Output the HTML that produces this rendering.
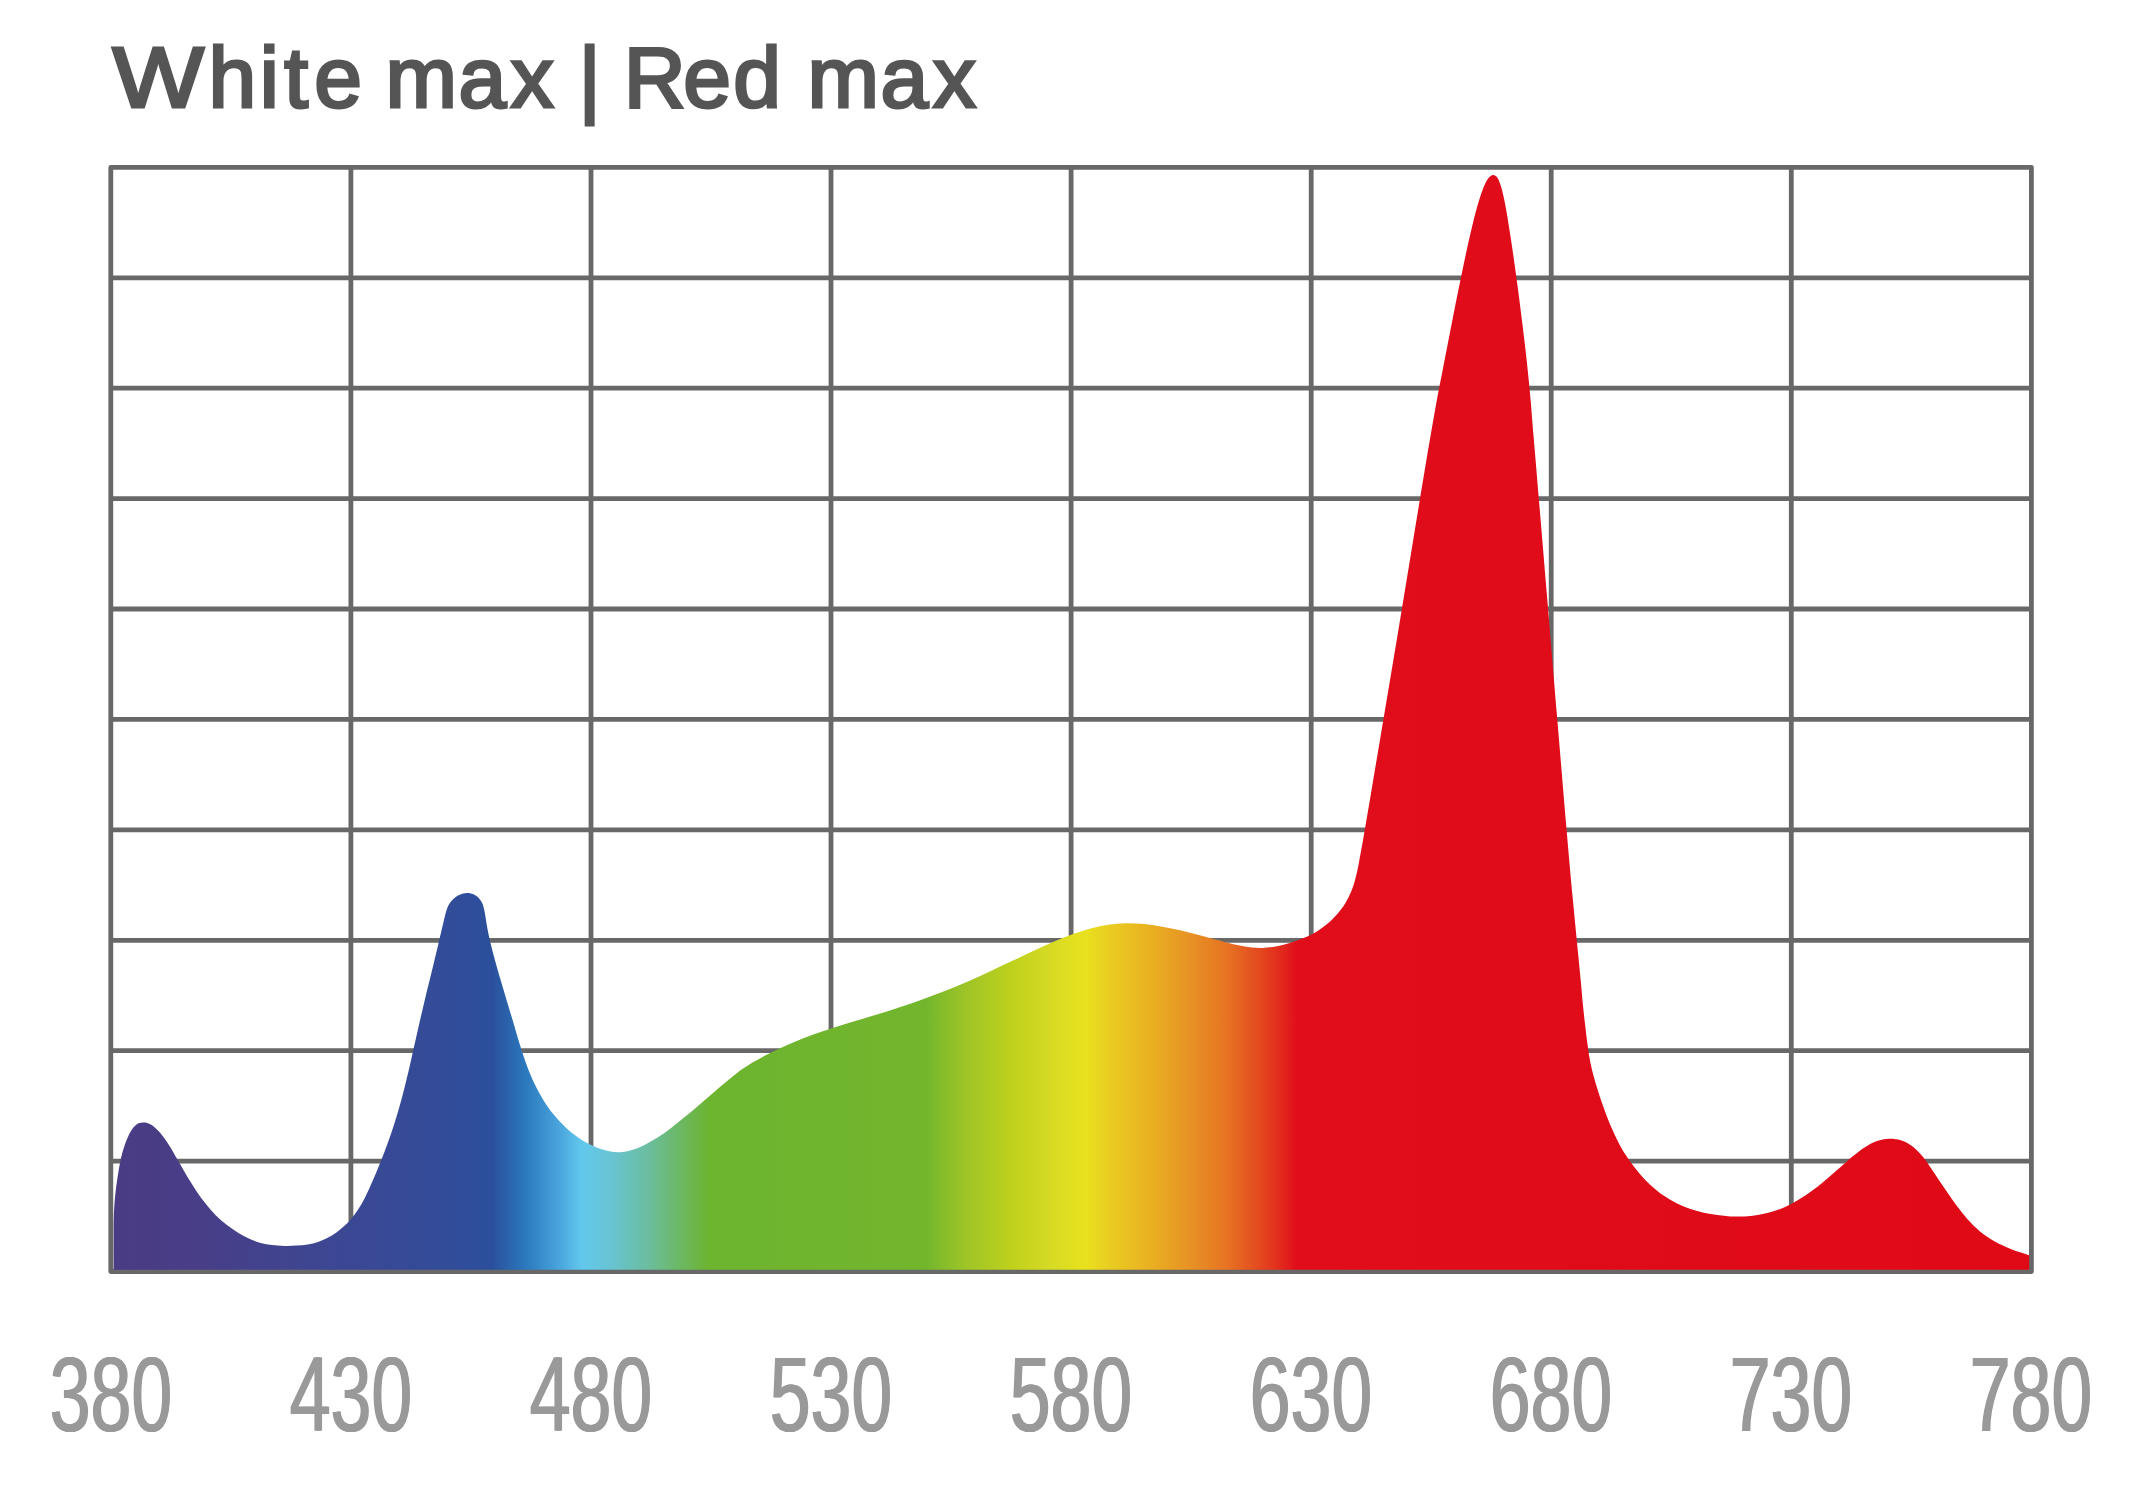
<!DOCTYPE html>
<html lang="en"><head><meta charset="utf-8"><title>White max | Red max</title>
<style>
html,body{margin:0;padding:0;background:#fff;}
body{width:2130px;height:1495px;overflow:hidden;position:relative;font-family:"Liberation Sans",sans-serif;}
svg{position:absolute;left:0;top:0;display:block;}
.title{font-family:"Liberation Sans",sans-serif;font-weight:normal;font-size:85.8px;fill:#555;stroke:#555;stroke-width:3.0px;stroke-linejoin:miter;}
.lab{position:absolute;top:1340.5px;width:300px;height:106.6px;line-height:106.6px;text-align:center;font-family:"Liberation Sans",sans-serif;font-size:106.6px;color:#999;transform:scaleX(0.688);transform-origin:50% 50%;text-shadow:1.05px 0 0 #999,-1.05px 0 0 #999;white-space:nowrap;}
</style></head><body>
<svg width="2130" height="1495" viewBox="0 0 2130 1495">
<defs><linearGradient id="sp" gradientUnits="userSpaceOnUse" x1="113.0" y1="0" x2="2030.0" y2="0"><stop offset="0.0000" stop-color="#4a3b84"/><stop offset="0.0454" stop-color="#483e87"/><stop offset="0.1132" stop-color="#3d4793"/><stop offset="0.1706" stop-color="#334c99"/><stop offset="0.1977" stop-color="#2b4f9c"/><stop offset="0.2149" stop-color="#2a78bd"/><stop offset="0.2332" stop-color="#4aa6dd"/><stop offset="0.2447" stop-color="#62c8ec"/><stop offset="0.2593" stop-color="#68c4d4"/><stop offset="0.2801" stop-color="#6bbd9b"/><stop offset="0.3031" stop-color="#6cb64a"/><stop offset="0.3114" stop-color="#6db42f"/><stop offset="0.4236" stop-color="#72b62c"/><stop offset="0.4444" stop-color="#9dc427"/><stop offset="0.4690" stop-color="#bfd11c"/><stop offset="0.4888" stop-color="#d6da24"/><stop offset="0.5076" stop-color="#e9e11e"/><stop offset="0.5201" stop-color="#e9cc22"/><stop offset="0.5409" stop-color="#e9b121"/><stop offset="0.5618" stop-color="#e79224"/><stop offset="0.5806" stop-color="#e77423"/><stop offset="0.5994" stop-color="#e3461f"/><stop offset="0.6114" stop-color="#e2231c"/><stop offset="0.6176" stop-color="#e10d1a"/><stop offset="1.0000" stop-color="#e00a17"/></linearGradient></defs>
<text class="title" y="107.4"><tspan x="112.4" textLength="91.4" lengthAdjust="spacingAndGlyphs">W</tspan><tspan x="208.4 259.7 284.2 314.3 362.0 385.6 458.4 510.8 553.7 578.6 600.8 623.8 683.2 733.2 780.9 807.5 880.6 933.0">hite max | Red max</tspan></text>
<g stroke="#686868" stroke-width="4.8" fill="none">
<path d="M350.9,167.4V1271.5M591.0,167.4V1271.5M831.0,167.4V1271.5M1071.1,167.4V1271.5M1311.2,167.4V1271.5M1551.2,167.4V1271.5M1791.3,167.4V1271.5"/>
<path d="M110.8,277.8H2031.4M110.8,388.2H2031.4M110.8,498.6H2031.4M110.8,609.0H2031.4M110.8,719.4H2031.4M110.8,829.9H2031.4M110.8,940.3H2031.4M110.8,1050.7H2031.4M110.8,1161.1H2031.4"/>
<rect x="110.8" y="167.4" width="1920.6" height="1104.1" stroke-linejoin="round"/>
</g>
<path fill="url(#sp)" d="M112.8,1269.8H113.6C113.6,1260.1 113.5,1249.7 113.6,1240.8C113.6,1233.2 113.5,1226.2 113.7,1219.6C113.9,1213.8 114.1,1208.8 114.5,1203.3C114.9,1197.6 115.5,1191.9 116.3,1186.1C117.1,1180.1 118.0,1173.7 119.1,1167.7C120.2,1161.9 121.4,1156.0 122.9,1150.7C124.4,1145.8 126.0,1141.0 127.9,1136.9C129.5,1133.4 131.4,1130.0 133.4,1127.6C135.0,1125.8 136.8,1124.2 138.6,1123.3C140.1,1122.6 141.6,1122.5 143.1,1122.4C144.5,1122.4 145.8,1122.5 147.2,1123.0C148.9,1123.5 150.7,1124.4 152.5,1125.6C154.8,1127.3 157.4,1129.9 159.9,1132.6C162.8,1135.9 165.7,1140.1 168.4,1144.3C171.5,1148.9 174.3,1154.2 177.3,1159.3C180.4,1164.6 183.4,1170.2 186.6,1175.6C189.8,1180.8 193.0,1186.1 196.3,1190.9C199.4,1195.5 202.5,1200.0 205.9,1204.1C209.0,1208.0 212.2,1211.7 215.7,1215.2C219.1,1218.6 222.8,1221.8 226.6,1224.8C230.4,1227.8 234.5,1230.6 238.5,1233.0C242.3,1235.3 246.1,1237.4 249.9,1239.0C253.5,1240.6 257.0,1241.9 260.6,1242.9C264.3,1243.9 268.1,1244.6 271.9,1245.1C275.9,1245.6 280.0,1245.8 284.1,1245.9C288.1,1246.0 292.3,1245.9 296.3,1245.6C300.2,1245.3 304.1,1245.0 307.8,1244.4C311.3,1243.8 314.7,1243.1 318.0,1242.0C321.3,1240.9 324.6,1239.4 327.7,1237.8C330.8,1236.1 333.9,1234.2 336.7,1232.2C339.5,1230.2 342.1,1228.1 344.5,1225.8C346.9,1223.6 349.2,1221.3 351.3,1218.7C353.6,1216.0 355.7,1213.3 357.8,1210.1C360.3,1206.4 362.6,1202.3 364.9,1197.8C367.6,1192.5 370.3,1186.2 373.0,1180.1C375.8,1173.7 378.6,1166.7 381.2,1160.2C383.7,1154.0 386.0,1148.0 388.1,1142.1C390.1,1136.6 391.9,1131.3 393.7,1125.8C395.5,1120.0 397.2,1114.3 399.0,1108.2C400.8,1101.8 402.6,1095.0 404.4,1088.2C406.1,1081.4 407.8,1074.3 409.4,1067.5C410.9,1061.0 412.3,1054.6 413.7,1048.3C415.1,1042.3 416.4,1036.4 417.7,1030.6C419.0,1024.9 420.2,1019.4 421.5,1013.9C422.8,1008.4 424.0,1003.3 425.4,997.4C427.0,990.7 428.9,983.3 430.8,975.6C432.9,966.8 435.4,956.3 437.6,947.3C439.5,939.1 441.5,930.3 443.1,923.7C444.3,918.9 445.1,914.6 446.2,911.2C447.0,908.7 447.7,906.8 448.8,904.8C449.9,902.8 451.2,901.0 452.8,899.4C454.6,897.7 456.8,896.0 459.2,895.0C461.6,893.9 464.5,893.1 467.1,893.0C469.6,893.0 472.3,893.6 474.5,894.7C476.6,895.8 478.4,897.6 479.9,899.4C481.3,901.1 482.3,903.2 483.1,905.4C483.9,907.7 484.3,910.1 484.8,912.8C485.5,916.0 485.8,919.6 486.5,923.4C487.3,928.1 488.3,933.2 489.5,938.8C491.0,945.5 493.0,953.0 495.1,960.7C497.5,969.6 500.5,979.4 503.3,989.0C506.2,998.9 509.4,1009.4 512.3,1019.1C515.0,1028.3 517.6,1037.4 520.2,1045.7C522.6,1053.1 524.7,1060.0 527.2,1066.5C529.5,1072.6 531.8,1078.2 534.5,1083.8C537.2,1089.4 540.1,1094.7 543.3,1099.9C546.4,1105.0 549.9,1110.0 553.7,1114.6C557.3,1119.0 561.2,1123.2 565.2,1126.9C569.0,1130.5 573.0,1133.8 577.1,1136.7C580.9,1139.5 584.9,1141.9 589.0,1144.0C592.9,1146.1 596.9,1147.8 600.8,1149.1C604.5,1150.3 608.1,1151.3 611.7,1151.8C615.2,1152.3 618.5,1152.4 622.0,1152.1C625.5,1151.8 629.2,1150.9 632.8,1149.8C636.7,1148.6 640.6,1146.9 644.5,1145.0C648.7,1143.0 652.8,1140.5 657.1,1137.8C661.7,1134.8 666.4,1131.4 671.1,1127.9C676.0,1124.2 681.0,1120.1 685.9,1116.1C690.9,1112.0 695.9,1107.7 700.8,1103.4C705.9,1099.1 711.0,1094.7 715.9,1090.5C720.5,1086.6 725.1,1082.7 729.2,1079.3C732.7,1076.5 735.5,1074.0 738.9,1071.5C742.5,1068.9 745.9,1066.6 750.2,1064.0C755.7,1060.7 762.5,1057.0 769.2,1053.6C776.6,1049.9 784.9,1046.0 792.6,1042.7C799.8,1039.6 807.0,1036.9 814.0,1034.3C820.6,1031.9 826.8,1029.9 833.4,1027.7C840.3,1025.5 847.2,1023.4 854.4,1021.2C861.8,1019.0 869.5,1016.7 877.0,1014.4C884.6,1012.1 892.2,1009.8 899.7,1007.3C907.3,1004.9 914.8,1002.4 922.3,999.6C929.8,996.9 937.3,994.1 944.8,991.1C952.3,988.1 959.8,984.9 967.3,981.7C974.9,978.4 982.3,975.0 989.8,971.5C997.4,968.0 1005.0,964.3 1012.5,960.8C1020.1,957.2 1027.9,953.4 1035.3,950.0C1042.5,946.7 1049.7,943.5 1056.6,940.6C1062.8,938.0 1068.8,935.6 1074.8,933.5C1080.4,931.5 1085.8,929.7 1091.4,928.2C1096.9,926.8 1102.6,925.6 1108.2,924.7C1113.7,923.9 1119.4,923.5 1124.9,923.3C1130.5,923.2 1135.9,923.4 1141.6,923.8C1147.5,924.3 1153.4,925.1 1159.7,926.2C1166.6,927.4 1173.9,929.0 1181.2,930.6C1188.8,932.4 1196.9,934.7 1204.5,936.6C1211.7,938.5 1219.0,940.6 1225.4,942.2C1230.9,943.5 1236.0,944.8 1240.8,945.7C1244.7,946.5 1248.2,947.1 1251.9,947.5C1255.4,947.8 1258.7,948.0 1262.2,947.9C1265.7,947.8 1269.3,947.4 1272.8,946.9C1276.4,946.4 1280.0,945.6 1283.5,944.7C1287.1,943.8 1290.7,942.8 1294.2,941.6C1297.8,940.4 1301.4,939.1 1304.9,937.6C1308.5,936.0 1312.1,934.3 1315.6,932.2C1319.3,930.0 1323.1,927.4 1326.5,924.5C1330.2,921.5 1333.8,918.0 1336.9,914.5C1340.0,910.9 1342.9,907.1 1345.3,903.2C1347.6,899.5 1349.5,895.8 1351.1,891.8C1352.8,887.8 1354.0,883.8 1355.2,879.5C1356.5,874.7 1357.5,869.5 1358.6,864.4C1359.6,859.3 1360.5,854.1 1361.4,849.1C1362.3,844.3 1362.9,840.7 1363.9,835.0C1365.5,826.0 1367.4,814.4 1369.8,800.6C1373.3,779.4 1378.4,749.3 1383.3,720.2C1389.1,685.7 1396.1,644.1 1402.2,607.0C1408.2,571.3 1414.3,533.3 1419.5,501.8C1423.8,476.0 1427.8,451.5 1431.3,431.5C1433.9,416.5 1436.1,404.3 1438.3,392.3C1440.3,382.0 1442.1,373.3 1443.9,363.6C1445.8,353.8 1447.8,343.9 1449.7,334.0C1451.7,323.9 1453.7,313.7 1455.6,303.7C1457.6,293.8 1459.6,284.0 1461.6,274.4C1463.5,265.0 1465.5,255.6 1467.5,246.5C1469.4,237.7 1471.4,229.0 1473.5,220.8C1475.4,213.3 1477.4,205.6 1479.5,199.1C1481.2,193.7 1483.0,188.2 1484.9,184.2C1486.4,181.3 1487.8,178.5 1489.5,177.0C1490.7,175.9 1492.1,175.0 1493.4,175.1C1494.7,175.2 1496.1,176.3 1497.2,177.6C1498.8,179.6 1499.9,183.1 1501.0,186.6C1502.6,191.3 1503.7,197.4 1505.0,203.5C1506.4,210.5 1507.7,218.5 1508.9,226.4C1510.3,234.8 1511.6,243.5 1512.9,252.4C1514.2,261.6 1515.5,271.0 1516.8,280.6C1518.2,290.6 1519.5,300.8 1520.8,311.2C1522.2,322.2 1523.6,333.6 1524.9,344.7C1526.2,355.8 1527.5,367.5 1528.5,377.9C1529.5,387.2 1530.2,395.1 1531.0,404.2C1531.8,414.2 1532.5,423.1 1533.5,435.5C1535.0,453.3 1537.0,476.5 1539.0,500.7C1541.6,531.3 1544.7,568.6 1547.7,604.2C1550.8,642.1 1554.3,683.7 1557.5,721.7C1560.5,757.4 1563.5,794.1 1566.2,825.6C1568.5,852.0 1570.7,876.8 1572.7,898.1C1574.3,915.1 1575.8,929.7 1577.1,943.8C1578.3,955.8 1579.4,966.8 1580.4,977.3C1581.3,986.6 1582.0,995.3 1582.8,1003.7C1583.6,1011.3 1584.3,1018.6 1585.2,1025.6C1585.9,1032.1 1586.7,1038.6 1587.5,1044.3C1588.2,1049.2 1588.7,1053.6 1589.5,1058.0C1590.3,1062.2 1591.1,1065.8 1592.1,1070.2C1593.4,1075.3 1595.0,1080.9 1596.7,1086.7C1598.7,1093.3 1601.1,1100.6 1603.6,1107.5C1606.1,1114.4 1608.8,1121.6 1611.7,1128.2C1614.3,1134.2 1617.1,1140.0 1620.0,1145.4C1622.8,1150.4 1625.6,1154.9 1628.7,1159.4C1631.8,1163.9 1635.1,1168.2 1638.6,1172.4C1642.3,1176.7 1646.3,1181.1 1650.4,1184.9C1654.6,1188.7 1659.0,1192.4 1663.6,1195.5C1667.9,1198.5 1672.5,1201.1 1677.1,1203.4C1681.5,1205.5 1686.0,1207.3 1690.5,1208.9C1694.9,1210.4 1699.4,1211.7 1703.8,1212.7C1708.3,1213.7 1712.8,1214.5 1717.2,1215.1C1721.7,1215.7 1726.1,1216.1 1730.6,1216.4C1735.1,1216.6 1739.6,1216.6 1744.1,1216.4C1748.6,1216.2 1753.2,1215.7 1757.7,1214.9C1761.9,1214.2 1766.2,1213.3 1770.1,1212.2C1773.7,1211.2 1777.0,1210.2 1780.4,1208.9C1784.0,1207.5 1787.4,1205.9 1791.2,1204.0C1795.6,1201.7 1800.5,1198.8 1805.3,1195.6C1810.6,1192.1 1816.2,1187.8 1821.5,1183.5C1827.0,1179.1 1832.4,1174.2 1837.7,1169.6C1842.7,1165.2 1847.7,1160.5 1852.5,1156.5C1856.9,1153.0 1861.0,1149.5 1865.3,1146.9C1869.1,1144.5 1872.9,1142.4 1876.9,1141.0C1880.7,1139.7 1884.7,1138.8 1888.7,1138.7C1892.7,1138.5 1896.8,1139.0 1900.7,1140.2C1904.6,1141.4 1908.5,1143.4 1912.0,1145.9C1915.7,1148.6 1919.0,1152.2 1922.2,1155.9C1925.8,1160.1 1929.0,1165.2 1932.4,1170.2C1936.2,1175.6 1939.9,1181.6 1943.8,1187.2C1947.7,1192.9 1951.6,1198.8 1955.6,1204.2C1959.5,1209.4 1963.2,1214.4 1967.3,1219.0C1971.3,1223.4 1975.5,1227.6 1980.0,1231.4C1984.6,1235.1 1989.6,1238.6 1994.8,1241.6C2000.0,1244.6 2005.7,1247.0 2011.4,1249.3C2017.1,1251.6 2023.2,1253.3 2029.2,1255.3V1269.8H112.8Z"/>
</svg>
<div class="lab" style="left:-39.2px">380</div>
<div class="lab" style="left:200.9px">430</div>
<div class="lab" style="left:441.0px">480</div>
<div class="lab" style="left:681.0px">530</div>
<div class="lab" style="left:921.1px">580</div>
<div class="lab" style="left:1161.2px">630</div>
<div class="lab" style="left:1401.2px">680</div>
<div class="lab" style="left:1641.3px">730</div>
<div class="lab" style="left:1881.4px">780</div>

</body></html>
